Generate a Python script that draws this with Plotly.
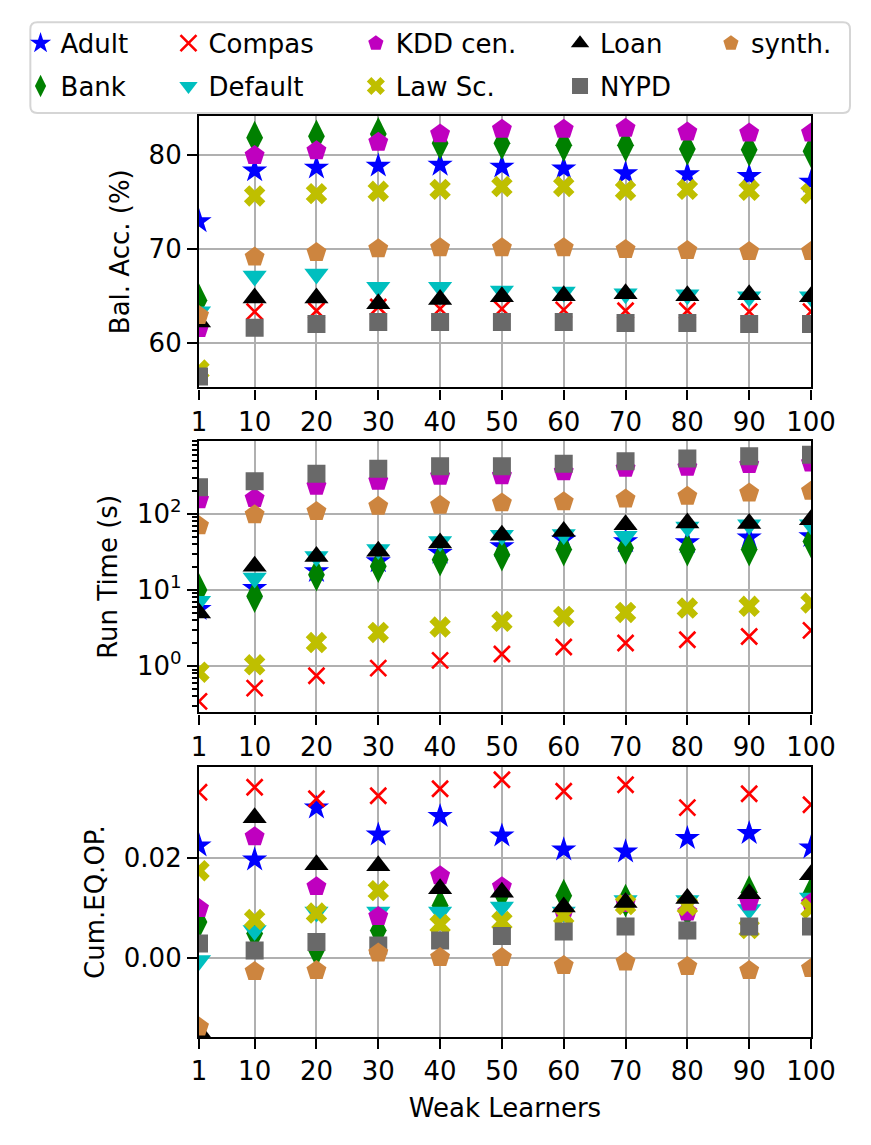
import plotly.graph_objects as go

# ---- data ----
weak_learners = [1, 10, 20, 30, 40, 50, 60, 70, 80, 90, 100]
datasets = ["Adult", "Bank", "Compas", "Default", "KDD cen.", "Law Sc.", "Loan", "NYPD", "synth."]

bal_acc_adult = [72.9, 78.3, 78.6, 78.8, 78.9, 78.7, 78.5, 78.0, 77.9, 77.7, 77.1]
bal_acc_bank = [64.5, 81.8, 81.95, 82.2, 81.2, 81.2, 81.0, 81.0, 80.6, 80.5, 80.35]
bal_acc_compas = [62.8, 63.3, 63.4, 63.8, 63.6, 63.6, 63.5, 63.4, 63.4, 63.3, 63.3]
bal_acc_default = [63.3, 67.1, 67.3, 65.9, 65.9, 65.5, 65.4, 65.2, 65.1, 64.9, 64.9]
bal_acc_kdd = [61.5, 79.9, 80.4, 81.3, 82.2, 82.7, 82.7, 82.8, 82.4, 82.3, 82.3]
bal_acc_law = [57.1, 75.6, 75.85, 76.1, 76.3, 76.6, 76.6, 76.2, 76.3, 76.2, 75.85]
bal_acc_loan = [62.2, 64.75, 64.75, 64.15, 64.6, 64.9, 65.0, 65.2, 65.0, 65.1, 64.9]
bal_acc_nypd = [56.4, 61.6, 62.0, 62.2, 62.2, 62.2, 62.2, 62.1, 62.1, 62.0, 62.0]
bal_acc_synth = [62.9, 69.1, 69.6, 70.0, 70.1, 70.1, 70.1, 69.9, 69.8, 69.7, 69.7]

run_adult = [5.6, 10.6, 17.6, 23.8, 30.7, 37.6, 46, 43.6, 42.4, 49, 50.8]
run_bank = [10, 8.3, 15.9, 20.5, 25, 29.2, 34, 35.7, 34, 34, 43.6]
run_compas = [0.343, 0.513, 0.746, 0.94, 1.19, 1.44, 1.78, 2.01, 2.22, 2.45, 2.95]
run_default = [7.1, 14.4, 27.7, 34, 43.6, 52.5, 53.6, 50.8, 67.5, 72, 72]
run_kdd = [154, 160, 231, 269, 313, 319, 360, 398, 411, 446, 468]
run_law = [0.83, 1.04, 2.04, 2.77, 3.26, 3.87, 4.5, 5.08, 5.8, 6.1, 6.75]
run_loan = [5.0, 20.5, 27.7, 32.3, 41.5, 52.5, 59, 72, 76, 75, 84]
run_nypd = [224, 269, 339, 395, 424, 424, 459, 493, 535, 574, 603]
run_synth = [70, 98, 108, 126, 130, 140, 145, 157, 171, 189, 199]

eq_adult = [0.0225, 0.0197, 0.0301, 0.0247, 0.0284, 0.0245, 0.0217, 0.0213, 0.024, 0.025, 0.0221]
eq_bank = [0.0072, 0.0049, 0.0015, 0.0055, 0.0105, 0.0129, 0.0125, 0.0115, 0.0095, 0.0132, 0.013]
eq_compas = [0.0332, 0.0342, 0.0319, 0.0325, 0.0339, 0.0357, 0.0334, 0.0347, 0.0301, 0.0329, 0.0307]
eq_default = [-0.0005, 0.0055, 0.0092, 0.0092, 0.0092, 0.0102, 0.0092, 0.0115, 0.0115, 0.0097, 0.012]
eq_kdd = [0.0099, 0.0243, 0.0143, 0.0083, 0.0165, 0.0143, 0.0092, 0.0109, 0.0092, 0.0112, 0.011]
eq_law = [0.0175, 0.0077, 0.009, 0.0135, 0.0067, 0.0073, 0.0085, 0.0107, 0.0105, 0.0059, 0.0099]
eq_loan = [-0.0148, 0.0281, 0.0187, 0.0185, 0.0139, 0.0132, 0.0102, 0.0111, 0.0119, 0.0129, 0.0167]
eq_nypd = [0.0029, 0.0015, 0.0032, 0.0025, 0.0035, 0.0044, 0.0053, 0.0063, 0.0055, 0.0063, 0.0063]
eq_synth = [-0.0138, -0.0027, -0.0025, 0.001, 0.0001, 0.0001, -0.0015, -0.0008, -0.0017, -0.0025, -0.0021]

x_ticks = [1, 10, 20, 30, 40, 50, 60, 70, 80, 90, 100]
run_ticks = [1, 10, 100]
run_tick_text = ["10<sup>0</sup>", "10<sup>1</sup>", "10<sup>2</sup>"]

bal_acc = [bal_acc_adult, bal_acc_bank, bal_acc_compas, bal_acc_default, bal_acc_kdd,
           bal_acc_law, bal_acc_loan, bal_acc_nypd, bal_acc_synth]
run_time = [run_adult, run_bank, run_compas, run_default, run_kdd,
            run_law, run_loan, run_nypd, run_synth]
cum_eq = [eq_adult, eq_bank, eq_compas, eq_default, eq_kdd,
          eq_law, eq_loan, eq_nypd, eq_synth]

# matplotlib-ish marker styles
STYLES = [
    dict(symbol="star", color="#0000ff", size=19),
    dict(symbol="diamond-tall", color="#008000", size=24),
    dict(symbol="x-thin", color="#ff0000", size=16),
    dict(symbol="triangle-down", color="#00bfbf", size=21),
    dict(symbol="pentagon", color="#bf00bf", size=21),
    dict(symbol="x", color="#bfbf00", size=19),
    dict(symbol="triangle-up", color="#000000", size=21),
    dict(symbol="square", color="#696969", size=18),
    dict(symbol="pentagon", color="#cd853f", size=21),
]

FONT = "DejaVu Sans"
FS = 26

fig = go.Figure()

panels = [(bal_acc, "x", "y"), (run_time, "x2", "y2"), (cum_eq, "x3", "y3")]
for p, (values, xa, ya) in enumerate(panels):
    for i, name in enumerate(datasets):
        st = STYLES[i]
        if st["symbol"] == "x-thin":
            line = dict(color=st["color"], width=2.6)
        else:
            line = dict(width=0)
        fig.add_trace(go.Scatter(
            x=weak_learners, y=values[i],
            mode="markers", name=name,
            xaxis=xa, yaxis=ya,
            marker=dict(symbol=st["symbol"], color=st["color"], size=st["size"], line=line),
            showlegend=(p == 0),
            legend="legend" if i // 2 == 0 else "legend%d" % (i // 2 + 1),
            legendgroup=name,
        ))


def x_axis(anchor):
    return dict(
        anchor=anchor, domain=[0, 1], range=[1, 100],
        tickvals=x_ticks, ticks="outside", ticklen=10, tickwidth=2, tickcolor="black",
        showline=True, linecolor="black", linewidth=2.2, mirror=True,
        showgrid=True, gridcolor="#b0b0b0", gridwidth=1.6, zeroline=False,
        tickfont=dict(family=FONT, size=FS, color="black"),
    )


def y_axis(anchor, domain, title):
    return dict(
        anchor=anchor, domain=domain,
        ticks="outside", ticklen=10, tickwidth=2, tickcolor="black",
        showline=True, linecolor="black", linewidth=2.2, mirror=True,
        showgrid=True, gridcolor="#b0b0b0", gridwidth=1.6, zeroline=False,
        tickfont=dict(family=FONT, size=FS, color="black"),
        title=dict(text=title, font=dict(family=FONT, size=FS, color="black"), standoff=12),
    )


xa1 = x_axis("y")
xa2 = x_axis("y2")
xa3 = x_axis("y3")
xa3["title"] = dict(text="Weak Learners", font=dict(family=FONT, size=FS, color="black"), standoff=14)

ya1 = y_axis("x", [0.7053, 1.0], "Bal. Acc. (%)")
ya1.update(range=[55.25, 84.1], tickvals=[60, 70, 80])

ya2 = y_axis("x2", [0.3524, 0.6468], "Run Time (s)")
ya2.update(type="log", range=[-0.61, 2.956], tickvals=run_ticks, ticktext=run_tick_text,
           minor=dict(ticks="outside", ticklen=5, tickwidth=1.5, tickcolor="black",
                      showgrid=False, dtick="D1"))

ya3 = y_axis("x3", [0.0, 0.2929], "Cum.EQ.OP.")
ya3.update(range=[-0.0158, 0.0382], tickvals=[0.0, 0.02], tickformat=".2f")

legend_x = [-0.2916, -0.0499, 0.2563, 0.5899, 0.8365]
legends = {}
for k, lx in enumerate(legend_x):
    key = "legend" if k == 0 else "legend%d" % (k + 1)
    legends[key] = dict(
        x=lx, y=1.1045, xanchor="left", yanchor="top", orientation="v",
        bgcolor="rgba(0,0,0,0)", borderwidth=0, tracegroupgap=6,
        font=dict(family=FONT, size=FS, color="black"),
    )

# rounded legend frame (paper coords)
x0, x1, y0, y1 = -0.2756, 1.0637, 1.0033, 1.1018
rx, ry = 7 / 620.5, 7 / 923
frame = (f"M {x0 + rx},{y1} L {x1 - rx},{y1} Q {x1},{y1} {x1},{y1 - ry} "
         f"L {x1},{y0 + ry} Q {x1},{y0} {x1 - rx},{y0} L {x0 + rx},{y0} "
         f"Q {x0},{y0} {x0},{y0 + ry} L {x0},{y1 - ry} Q {x0},{y1} {x0 + rx},{y1} Z")

# page body adds an 8px offset, so the figure is shifted to compensate
fig.update_layout(
    width=863, height=1137,
    margin=dict(l=183, r=60, t=106, b=108),
    paper_bgcolor="white", plot_bgcolor="white",
    font=dict(family=FONT, size=FS, color="black"),
    xaxis=xa1, xaxis2=xa2, xaxis3=xa3,
    yaxis=ya1, yaxis2=ya2, yaxis3=ya3,
    shapes=[dict(type="path", path=frame, xref="paper", yref="paper",
                 line=dict(color="#d5d5d5", width=2), fillcolor="rgba(255,255,255,0.8)",
                 layer="above")],
    **legends,
)

fig.write_html("out.html")
